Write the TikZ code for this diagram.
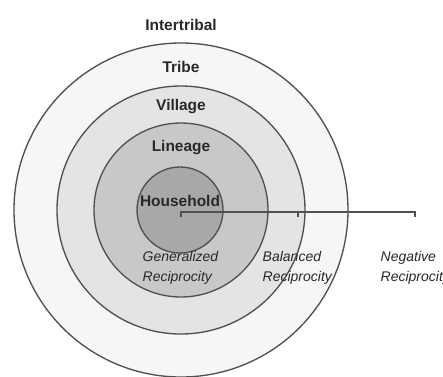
\documentclass[tikz,border=0pt]{standalone}
\usepackage{fontspec}
\setmainfont{Liberation Sans}
\definecolor{ringline}{RGB}{80,80,80}
\definecolor{tribefill}{RGB}{246,246,246}
\definecolor{villagefill}{RGB}{228,228,228}
\definecolor{lineagefill}{RGB}{200,200,200}
\definecolor{housefill}{RGB}{168,168,168}
\definecolor{labeltext}{RGB}{40,40,40}
\tikzset{
  ring/.style={circle, draw=ringline, line width=1pt, inner sep=0pt},
  ringlabel/.style={text=labeltext, font=\fontsize{11.6}{14}\selectfont\bfseries},
  reclabel/.style={text=labeltext, font=\fontsize{10.5}{15}\selectfont\itshape, align=left, anchor=west},
  bracket/.style={draw=ringline, line width=1pt},
}
\begin{document}
\begin{tikzpicture}[x=0.75pt,y=0.75pt,yscale=-1,xscale=1]
\useasboundingbox (0,0) rectangle (443,376);
\fill[white] (0,0) rectangle (443,376);
%Shape: Circles
\node[ring, fill=tribefill, minimum size=250.5pt] (tribe) at (181,210) {};
\node[ring, fill=villagefill, minimum size=186pt] (village) at (181,210) {};
\node[ring, fill=lineagefill, minimum size=130.5pt] (lineage) at (181,210) {};
\node[ring, fill=housefill, minimum size=64.5pt] (household) at (180,210) {};
% Text Node
\node[ringlabel] (intertribalText) at (181,25) {Intertribal};
\node[ringlabel] (tribeText) at (181,67) {Tribe};
\node[ringlabel] (villageText) at (181,107) {Village};
\node[ringlabel] (lineageText) at (181,148) {Lineage};
\node[ringlabel] (householdText) at (180,201) {Household};
%Straight Lines: bracket
\coordinate (genTop) at (181,212);
\coordinate (balTop) at (298,212);
\coordinate (negTop) at (415,212);
\coordinate (genTick) at (181,217);
\coordinate (balTick) at (298,217);
\coordinate (negTick) at (415,217);
\draw[bracket] (genTick) -- (genTop) -- (balTop) -- (negTop) -- (negTick);
\draw[bracket] (balTop) -- (balTick);
% Text Node
\node[reclabel] (genText) at (138,268) {Generalized\\Reciprocity};
\node[reclabel] (balText) at (258,268) {Balanced\\Reciprocity};
\node[reclabel] (negText) at (376,268) {Negative\\Reciprocity};
\end{tikzpicture}
\end{document}
